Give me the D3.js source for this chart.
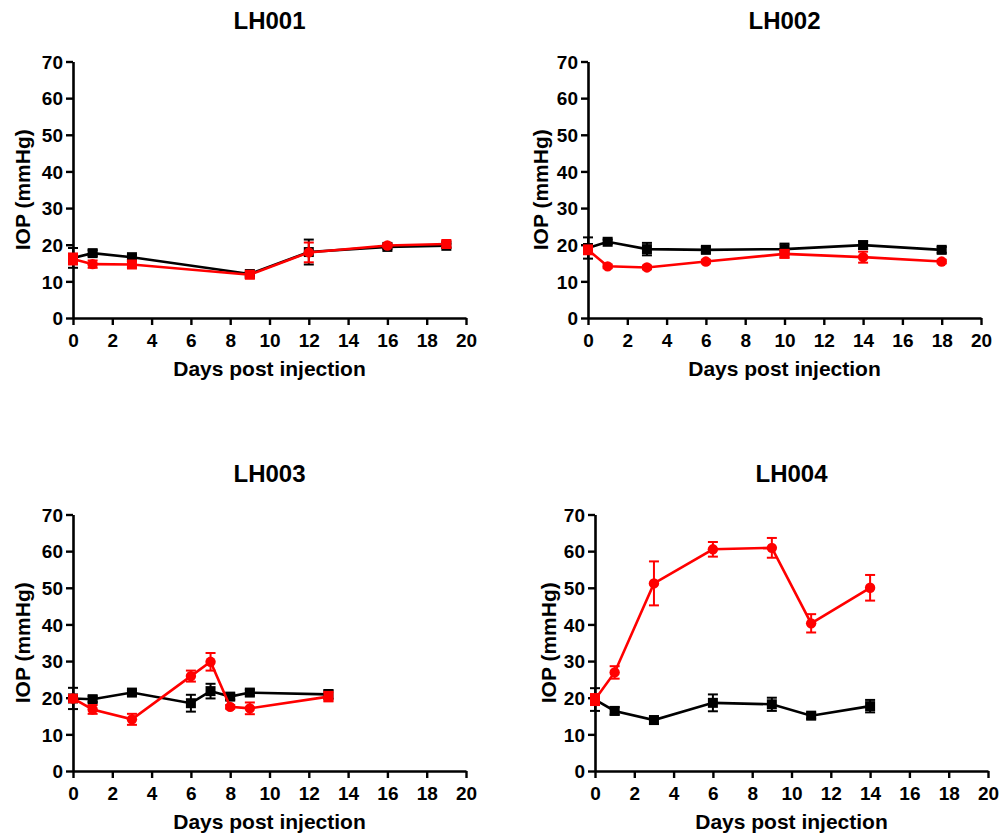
<!DOCTYPE html>
<html>
<head>
<meta charset="utf-8">
<script src="https://cdn.jsdelivr.net/npm/d3@7"></script>
<style>
  body { margin: 0; background: #fff; }
  svg { display: block; font-family: "Liberation Sans", Arial, sans-serif; }
</style>
</head>
<body>
<svg id="chart" width="1002" height="837"></svg>
<script>
// IOP measurements per animal: control (black squares) and treated (red) eye
const panelNames = ["LH001", "LH002", "LH003", "LH004"];

const daysLH001 = [0, 1, 3, 9, 12, 16, 19];
const blackLH001 = [16.4, 17.7, 16.6, 12.0, 18.0, 19.4, 19.7];
const blackErrLH001 = [2.7, 0.8, 0.6, 0.6, 3.4, 0.6, 0.6];
const redLH001 = [16.1, 14.7, 14.6, 11.8, 17.9, 19.8, 20.2];
const redErrLH001 = [1.5, 1.0, 0.8, 0.8, 2.7, 0.5, 0.8];
const redShapeLH001 = ["s", "c", "s", "s", "c", "c", "s"];

const daysLH002 = [0, 1, 3, 6, 10, 14, 18];
const blackLH002 = [19.1, 20.8, 18.8, 18.6, 18.8, 19.9, 18.6];
const blackErrLH002 = [2.9, 0.6, 1.7, 0.8, 1.5, 1.0, 0.8];
const redLH002 = [18.6, 14.1, 13.8, 15.4, 17.5, 16.6, 15.4];
const redErrLH002 = [1.2, 0.5, 0.5, 0.5, 1.0, 1.5, 0.5];
const redShapeLH002 = ["s", "c", "c", "c", "s", "c", "c"];

const daysLH003 = [0, 1, 3, 6, 7, 8, 9, 13];
const blackLH003 = [19.8, 19.6, 21.4, 18.5, 21.8, 20.3, 21.4, 20.9];
const blackErrLH003 = [2.9, 0.8, 0.6, 2.3, 2.0, 0.8, 0.8, 1.2];
const redLH003 = [19.8, 16.8, 14.1, 25.9, 29.8, 17.5, 17.1, 20.3];
const redErrLH003 = [1.0, 1.2, 1.5, 1.5, 2.4, 0.5, 1.6, 1.3];
const redShapeLH003 = ["c", "c", "c", "c", "c", "c", "c", "s"];

const daysLH004 = [0, 1, 3, 6, 9, 11, 14];
const blackLH004 = [19.5, 16.4, 13.9, 18.6, 18.2, 15.1, 17.7];
const blackErrLH004 = [3.1, 1.0, 1.0, 2.3, 1.8, 0.8, 1.7];
const redLH004 = [19.5, 26.9, 51.2, 60.5, 60.9, 40.3, 50.0];
const redErrLH004 = [1.5, 1.7, 6.0, 2.0, 2.7, 2.5, 3.5];
const redShapeLH004 = ["s", "c", "c", "c", "c", "c", "c"];

const xTicks = [0, 2, 4, 6, 8, 10, 12, 14, 16, 18, 20];
const yTicks = [0, 10, 20, 30, 40, 50, 60, 70];
const xTitle = "Days post injection";
const yTitle = "IOP (mmHg)";

const panels = [
  { name: panelNames[0], days: daysLH001, black: blackLH001, blackErr: blackErrLH001, red: redLH001, redErr: redErrLH001, shapes: redShapeLH001, x0: 73, x1: 466, y0: 318, y1: 61.5, yt: 30 },
  { name: panelNames[1], days: daysLH002, black: blackLH002, blackErr: blackErrLH002, red: redLH002, redErr: redErrLH002, shapes: redShapeLH002, x0: 588, x1: 981, y0: 318, y1: 61.5, yt: 548 },
  { name: panelNames[2], days: daysLH003, black: blackLH003, blackErr: blackErrLH003, red: redLH003, redErr: redErrLH003, shapes: redShapeLH003, x0: 73, x1: 466, y0: 771, y1: 514.5, yt: 30 },
  { name: panelNames[3], days: daysLH004, black: blackLH004, blackErr: blackErrLH004, red: redLH004, redErr: redErrLH004, shapes: redShapeLH004, x0: 595, x1: 988, y0: 771, y1: 514.5, yt: 556 }
];

const svg = d3.select("#chart");

panels.forEach(p => {
  const x = d3.scaleLinear().domain([0, 20]).range([p.x0, p.x1]);
  const y = d3.scaleLinear().domain([0, 70]).range([p.y0, p.y1]);
  const g = svg.append("g");

  // axes
  const xAxis = g.append("g").attr("transform", `translate(0,${p.y0})`)
    .call(d3.axisBottom(x).tickValues(xTicks).tickSize(7).tickPadding(4).tickSizeOuter(0));
  const yAxis = g.append("g").attr("transform", `translate(${p.x0},0)`)
    .call(d3.axisLeft(y).tickValues(yTicks).tickSize(7).tickPadding(3).tickSizeOuter(0));
  [xAxis, yAxis].forEach(a => {
    a.select(".domain").attr("stroke", "#000").attr("stroke-width", 2.6);
    a.selectAll(".tick line").attr("stroke", "#000").attr("stroke-width", 2.4);
    a.selectAll(".tick text").attr("fill", "#000")
      .style("font-size", "19px").style("font-weight", "bold");
  });
  xAxis.selectAll(".tick text").attr("dy", "0.95em");
  yAxis.selectAll(".tick text").attr("dy", "0.36em");

  // titles
  const cx = (p.x0 + p.x1) / 2;
  g.append("text").attr("x", cx).attr("y", p.y1 - 33)
    .attr("text-anchor", "middle").style("font-size", "24px").style("font-weight", "bold")
    .text(p.name);
  g.append("text").attr("x", cx).attr("y", p.y0 + 58)
    .attr("text-anchor", "middle").style("font-size", "21px").style("font-weight", "bold")
    .text(xTitle);
  g.append("text")
    .attr("transform", `translate(${p.yt},${(p.y0 + p.y1) / 2}) rotate(-90)`)
    .attr("text-anchor", "middle").style("font-size", "21px").style("font-weight", "bold")
    .text(yTitle);

  const line = d3.line().x(d => x(d.day)).y(d => y(d.v));

  function drawSeries(vals, errs, color, shapeOf) {
    const pts = p.days.map((day, i) => ({ day, v: vals[i], e: errs[i], shape: shapeOf(i) }));
    const s = g.append("g");
    s.append("path").datum(pts).attr("d", line)
      .attr("fill", "none").attr("stroke", color).attr("stroke-width", 2.6);
    const eb = s.selectAll("g.err").data(pts).join("g").attr("class", "err")
      .attr("stroke", color).attr("stroke-width", 2);
    eb.append("line").attr("x1", d => x(d.day)).attr("x2", d => x(d.day))
      .attr("y1", d => y(d.v - d.e)).attr("y2", d => y(d.v + d.e));
    eb.append("line").attr("x1", d => x(d.day) - 5).attr("x2", d => x(d.day) + 5)
      .attr("y1", d => y(d.v + d.e)).attr("y2", d => y(d.v + d.e));
    eb.append("line").attr("x1", d => x(d.day) - 5).attr("x2", d => x(d.day) + 5)
      .attr("y1", d => y(d.v - d.e)).attr("y2", d => y(d.v - d.e));
    s.selectAll("path.mark").data(pts).join("path").attr("class", "mark")
      .attr("transform", d => `translate(${x(d.day)},${y(d.v)})`)
      .attr("d", d => d.shape === "s"
        ? d3.symbol(d3.symbolSquare, 100)()
        : d3.symbol(d3.symbolCircle, 85)())
      .attr("fill", color);
  }

  drawSeries(p.black, p.blackErr, "#000", () => "s");
  drawSeries(p.red, p.redErr, "#ff0000", i => p.shapes[i]);
});
</script>
</body>
</html>
